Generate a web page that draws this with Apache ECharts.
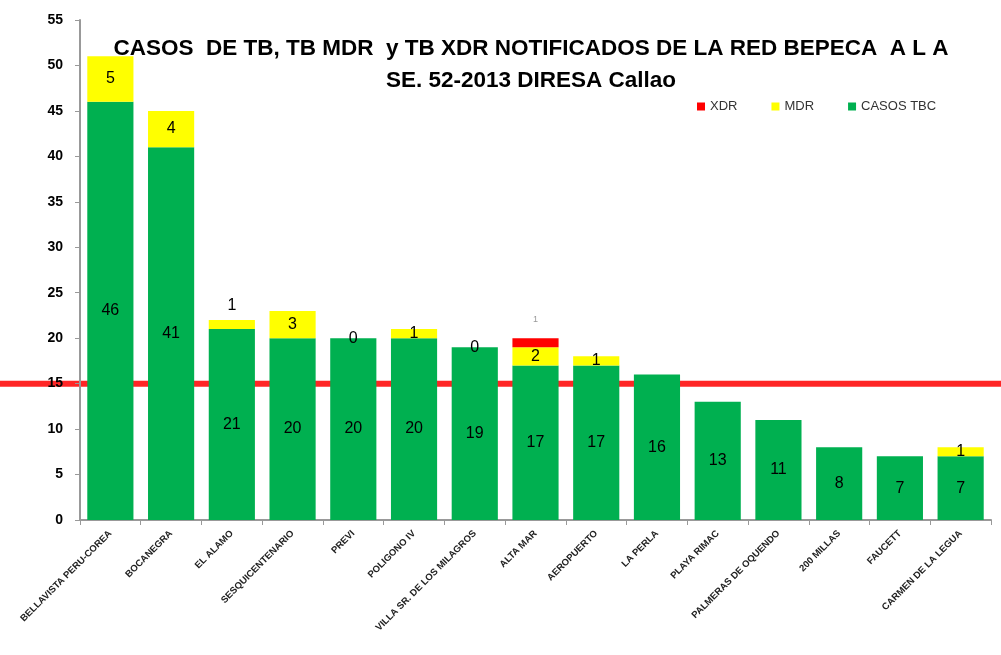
<!DOCTYPE html>
<html>
<head>
<meta charset="utf-8">
<script src="https://cdn.jsdelivr.net/npm/echarts@6/dist/echarts.min.js"></script>
<style>
  html, body { margin: 0; padding: 0; background: #fff; }
  #chart { width: 1001px; height: 655px; }
</style>
</head>
<body>
<div id="chart"></div>
<script>
// datos
const categorias = ['BELLAVISTA PERU-COREA', 'BOCANEGRA', 'EL ALAMO', 'SESQUICENTENARIO', 'PREVI', 'POLIGONO IV',
    'VILLA SR. DE LOS MILAGROS', 'ALTA MAR', 'AEROPUERTO', 'LA PERLA', 'PLAYA RIMAC', 'PALMERAS DE OQUENDO',
    '200 MILLAS', 'FAUCETT', 'CARMEN DE LA LEGUA']
const casosTBC = [46, 41, 21, 20, 20, 20, 19, 17, 17, 16, 13, 11, 8, 7, 7]
const casosMDR = [5, 4, 1, 3, 0, 1, 0, 2, 1, null, null, null, null, null, 1]
const casosXDR = [null, null, null, null, null, null, null, 1, null, null, null, null, null, null, null]
const umbral = [15, 15]
const yTicks = { min: 0, max: 55, interval: 5 }

const fuente = '"Liberation Sans", Arial, sans-serif'

const chart = echarts.init(document.getElementById('chart'))

const labelCentro = {
    show: true,
    position: 'inside',
    color: '#000',
    fontFamily: fuente,
    fontSize: 16,
    formatter: p => (p.value == null ? '' : p.value)
}

const option = {
    backgroundColor: '#fff',
    animation: false,
    title: {
        text: 'CASOS  DE TB, TB MDR  y TB XDR NOTIFICADOS DE LA RED BEPECA  A L A\nSE. 52-2013 DIRESA Callao',
        left: 526,
        top: 28,
        textAlign: 'center',
        textStyle: {
            fontFamily: fuente,
            fontWeight: 'bold',
            fontSize: 22.5,
            lineHeight: 32,
            color: '#000'
        }
    },
    legend: {
        data: ['XDR', 'MDR', 'CASOS TBC'],
        left: 692,
        top: 95,
        itemWidth: 8,
        itemHeight: 8,
        itemGap: 34,
        icon: 'rect',
        textStyle: { fontFamily: fuente, fontSize: 13, color: '#333' }
    },
    grid: [
        { left: 80, right: 10, top: 20, bottom: 135 },
        { left: 0, right: 0, top: 20, bottom: 135 }
    ],
    xAxis: [
        {
            type: 'category',
            gridIndex: 0,
            data: categorias,
            axisLine: { lineStyle: { color: '#999', width: 2 } },
            axisTick: { show: true, length: 5, lineStyle: { color: '#999' } },
            axisLabel: {
                rotate: 45,
                interval: 0,
                fontFamily: fuente,
                fontWeight: 'bold',
                fontSize: 9.5,
                color: '#222',
                margin: 12
            }
        },
        {
            type: 'category',
            gridIndex: 1,
            data: ['a', 'b'],
            boundaryGap: false,
            show: false
        }
    ],
    yAxis: [
        {
            type: 'value',
            gridIndex: 0,
            min: yTicks.min,
            max: yTicks.max,
            interval: yTicks.interval,
            axisLine: { show: true, lineStyle: { color: '#999', width: 2 } },
            axisTick: { show: true, length: 5, lineStyle: { color: '#999' } },
            splitLine: { show: false },
            axisLabel: {
                fontFamily: fuente,
                fontWeight: 'bold',
                fontSize: 14,
                color: '#000',
                margin: 17
            },
            z: 5
        },
        {
            type: 'value',
            gridIndex: 1,
            min: yTicks.min,
            max: yTicks.max,
            show: false
        }
    ],
    series: [
        {
            name: 'CASOS TBC',
            type: 'bar',
            stack: 'total',
            barWidth: '76%',
            itemStyle: { color: '#00B050' },
            label: labelCentro,
            data: casosTBC,
            z: 3
        },
        {
            name: 'MDR',
            type: 'bar',
            stack: 'total',
            itemStyle: { color: '#FFFF00' },
            label: labelCentro,
            data: casosMDR.map((v, i) => (i === 2 ? { value: v, label: { position: 'top', distance: 6 } } : v)),
            z: 3
        },
        {
            name: 'XDR',
            type: 'bar',
            stack: 'total',
            itemStyle: { color: '#FF0000' },
            label: {
                show: true,
                position: 'top',
                distance: 14,
                color: '#999',
                fontFamily: fuente,
                fontSize: 9,
                formatter: p => (p.value == null ? '' : p.value)
            },
            data: casosXDR,
            z: 3
        },
        {
            name: 'umbral',
            type: 'line',
            xAxisIndex: 1,
            yAxisIndex: 1,
            data: umbral,
            symbol: 'none',
            silent: true,
            lineStyle: { color: '#FF0000', width: 6, opacity: 0.85 },
            z: 1
        }
    ]
}

chart.setOption(option)
</script>
</body>
</html>
